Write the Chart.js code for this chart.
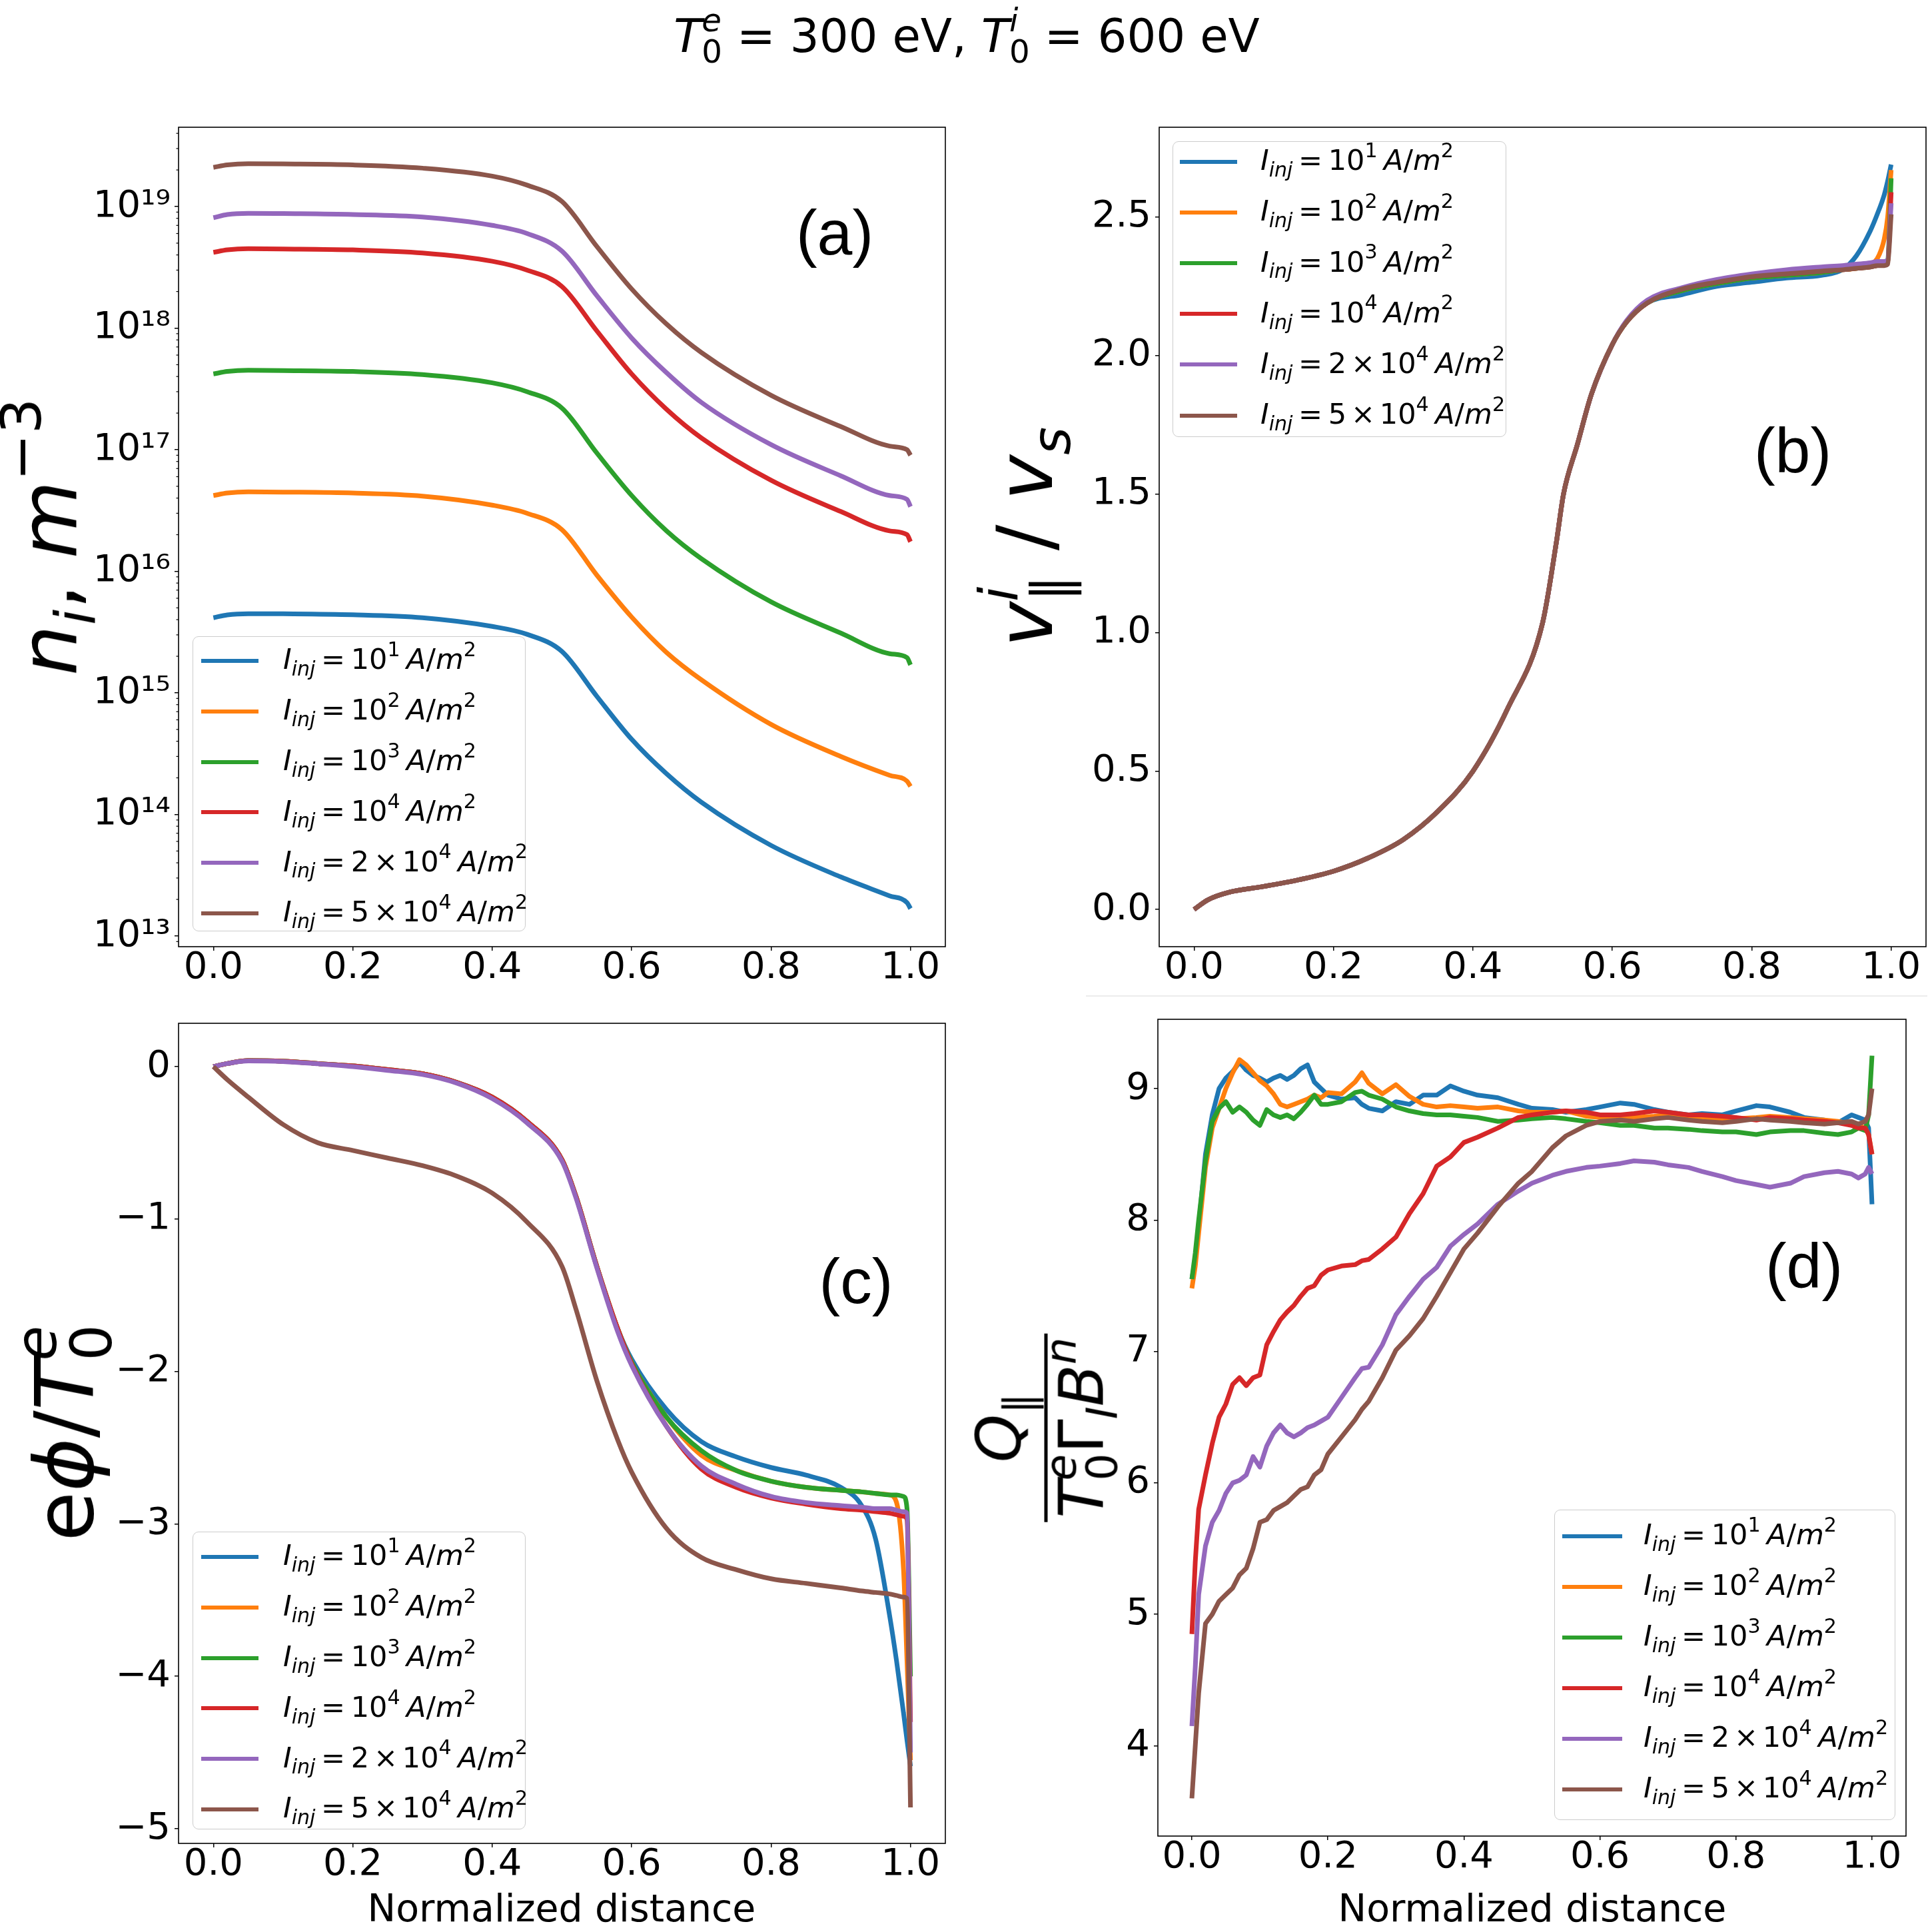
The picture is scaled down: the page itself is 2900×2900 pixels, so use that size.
<!DOCTYPE html>
<html>
<head>
<meta charset="utf-8">
<script src="https://cdn.jsdelivr.net/npm/chart.js"></script>
<style>
html, body { margin:0; padding:0; background:#fff; }
body { width:2900px; height:2900px; position:relative; overflow:hidden; font-family:'DejaVu Sans', sans-serif; }
canvas { position:absolute; }
.t { position:absolute; white-space:nowrap; color:#000; font-family:'DejaVu Sans', sans-serif; z-index:5; }
.sp { font-size:70%; position:relative; top:-0.64em; line-height:0; }
.sb { font-size:70%; position:relative; top:0.33em; line-height:0; }
.eq { margin:0 0.2em; }
.tm { margin:0 0.16em; }
.gap { margin-left:0.22em; }
.legend { position:absolute; box-sizing:border-box; border:1.5px solid #cccccc; border-radius:9px; background:rgba(255,255,255,0.8); z-index:4; }
.swatch { position:absolute; height:6px; z-index:5; }
.sep { position:absolute; left:1630px; top:1494px; width:1263px; height:2px; background:#ececec; }
</style>
</head>
<body>
<div class="sep"></div>
<canvas id="cA" width="1419" height="1385" style="left:8px;top:146px"></canvas>
<canvas id="cB" width="1419" height="1385" style="left:1480px;top:146px"></canvas>
<canvas id="cC" width="1419" height="1386" style="left:8px;top:1491px"></canvas>
<canvas id="cD" width="1391" height="1381" style="left:1478px;top:1485px"></canvas>
<script>
// ---------------- shared data ----------------
const SERIES_COLORS = ['#1f77b4', '#ff7f0e', '#2ca02c', '#d62728', '#9467bd', '#8c564b'];
const SERIES_COEF = ['', '', '', '', '2', '5'];
const SERIES_EXP = ['1', '2', '3', '4', '4', '4'];
const X_TICKS = [0, 0.2, 0.4, 0.6, 0.8, 1.0];
const X_TICK_LABELS = ['0.0', '0.2', '0.4', '0.6', '0.8', '1.0'];

// ---------------- (a) ion density ----------------
const A_X = [0, 0.02, 0.05, 0.1, 0.2, 0.3, 0.4, 0.45, 0.5, 0.55, 0.6, 0.65, 0.7, 0.8, 0.9, 0.97, 0.995, 1.0];
const A_BLUE   = [4.15e15, 4.38e15, 4.48e15, 4.47e15, 4.39e15, 4.15e15, 3.52e15, 3.03e15, 2.19e15, 9.38e14, 4.15e14, 2.16e14, 1.26e14, 5.56e13, 3.06e13, 2.14e13, 1.88e13, 1.68e13];
const A_ORANGE = [4.2e16, 4.4e16, 4.5e16, 4.48e16, 4.4e16, 4.15e16, 3.5e16, 3.0e16, 2.2e16, 9.3e15, 4.2e15, 2.15e15, 1.28e15, 5.5e14, 3.0e14, 2.1e14, 1.88e14, 1.7e14];
const A_GREEN  = [4.2e17, 4.4e17, 4.5e17, 4.48e17, 4.4e17, 4.15e17, 3.55e17, 3.0e17, 2.2e17, 9.4e16, 4.2e16, 2.15e16, 1.27e16, 5.6e15, 3.1e15, 2.1e15, 1.95e15, 1.7e15];
const A_RED    = [4.2e18, 4.4e18, 4.5e18, 4.48e18, 4.4e18, 4.15e18, 3.55e18, 3.0e18, 2.2e18, 9.5e17, 4.2e17, 2.15e17, 1.25e17, 5.6e16, 3.1e16, 2.15e16, 2.0e16, 1.75e16];
const A_PURPLE = [8.1e18, 8.6e18, 8.8e18, 8.75e18, 8.6e18, 8.2e18, 7.0e18, 6.0e18, 4.3e18, 1.85e18, 8.3e17, 4.3e17, 2.45e17, 1.1e17, 6.1e16, 4.2e16, 3.9e16, 3.4e16];
const A_BROWN  = [2.1e19, 2.2e19, 2.25e19, 2.24e19, 2.2e19, 2.07e19, 1.78e19, 1.5e19, 1.1e19, 4.7e18, 2.1e18, 1.08e18, 6.3e17, 2.8e17, 1.55e17, 1.07e17, 1.0e17, 0.9e17];
const A_Y_TICKS = [1e13, 1e14, 1e15, 1e16, 1e17, 1e18, 1e19];
const A_Y_TICK_LABELS = ['10¹³', '10¹⁴', '10¹⁵', '10¹⁶', '10¹⁷', '10¹⁸', '10¹⁹'];

// ---------------- (b) parallel ion velocity ----------------
const B_X = [0, 0.02, 0.05, 0.1, 0.15, 0.2, 0.25, 0.3, 0.35, 0.4, 0.45, 0.5, 0.52, 0.53, 0.55, 0.57, 0.6, 0.62, 0.65, 0.7, 0.75, 0.8, 0.85, 0.9, 0.93, 0.95, 0.97, 0.98, 0.99, 0.995, 1.0];
const B_BLUE   = [0, 0.035, 0.062, 0.083, 0.107, 0.138, 0.186, 0.252, 0.355, 0.499, 0.726, 1.035, 1.33, 1.5, 1.68, 1.86, 2.04, 2.12, 2.19, 2.22, 2.25, 2.265, 2.28, 2.29, 2.31, 2.36, 2.45, 2.51, 2.58, 2.63, 2.69];
const B_ORANGE = [0, 0.035, 0.062, 0.083, 0.107, 0.138, 0.186, 0.252, 0.355, 0.499, 0.726, 1.035, 1.33, 1.5, 1.68, 1.86, 2.04, 2.12, 2.19, 2.235, 2.26, 2.28, 2.29, 2.30, 2.31, 2.315, 2.33, 2.35, 2.42, 2.5, 2.67];
const B_GREEN  = [0, 0.035, 0.062, 0.083, 0.107, 0.138, 0.186, 0.252, 0.355, 0.499, 0.726, 1.035, 1.33, 1.5, 1.68, 1.86, 2.04, 2.12, 2.19, 2.235, 2.26, 2.28, 2.29, 2.30, 2.31, 2.315, 2.32, 2.325, 2.33, 2.34, 2.64];
const B_RED    = [0, 0.035, 0.062, 0.083, 0.107, 0.138, 0.186, 0.252, 0.355, 0.499, 0.726, 1.035, 1.33, 1.5, 1.68, 1.86, 2.04, 2.12, 2.19, 2.24, 2.265, 2.285, 2.295, 2.305, 2.31, 2.315, 2.32, 2.325, 2.33, 2.335, 2.59];
const B_PURPLE = [0, 0.035, 0.062, 0.083, 0.107, 0.138, 0.186, 0.252, 0.355, 0.499, 0.726, 1.035, 1.33, 1.5, 1.68, 1.86, 2.04, 2.125, 2.2, 2.245, 2.275, 2.295, 2.31, 2.32, 2.325, 2.33, 2.335, 2.34, 2.34, 2.345, 2.55];
const B_BROWN  = [0, 0.035, 0.062, 0.083, 0.107, 0.138, 0.186, 0.252, 0.355, 0.499, 0.726, 1.035, 1.33, 1.5, 1.68, 1.86, 2.04, 2.12, 2.19, 2.24, 2.265, 2.285, 2.295, 2.305, 2.31, 2.315, 2.32, 2.325, 2.325, 2.33, 2.51];
const B_Y_TICKS = [0, 0.5, 1.0, 1.5, 2.0, 2.5];
const B_Y_TICK_LABELS = ['0.0', '0.5', '1.0', '1.5', '2.0', '2.5'];

// ---------------- (c) potential ----------------
const C_X = [0, 0.02, 0.05, 0.1, 0.15, 0.2, 0.25, 0.3, 0.35, 0.4, 0.45, 0.5, 0.52, 0.55, 0.58, 0.6, 0.65, 0.7, 0.75, 0.8, 0.85, 0.9, 0.93, 0.95, 0.97, 0.98, 0.99, 0.995, 1.0];
const C_BLUE   = [0, 0.02, 0.039, 0.035, 0.02, 0.004, -0.02, -0.047, -0.105, -0.20, -0.36, -0.61, -0.85, -1.31, -1.72, -1.92, -2.25, -2.46, -2.56, -2.63, -2.68, -2.76, -2.88, -3.10, -3.60, -3.90, -4.24, -4.42, -4.59];
const C_ORANGE = [0, 0.02, 0.039, 0.035, 0.02, 0.004, -0.02, -0.047, -0.105, -0.20, -0.36, -0.61, -0.85, -1.31, -1.72, -1.94, -2.30, -2.55, -2.65, -2.72, -2.76, -2.78, -2.79, -2.80, -2.81, -2.86, -3.30, -3.90, -4.55];
const C_GREEN  = [0, 0.02, 0.039, 0.035, 0.02, 0.004, -0.02, -0.047, -0.105, -0.20, -0.36, -0.61, -0.85, -1.31, -1.72, -1.94, -2.30, -2.52, -2.65, -2.72, -2.76, -2.78, -2.79, -2.80, -2.81, -2.81, -2.82, -2.90, -4.00];
const C_RED    = [0, 0.02, 0.039, 0.035, 0.02, 0.004, -0.02, -0.047, -0.105, -0.20, -0.36, -0.61, -0.85, -1.31, -1.72, -1.95, -2.36, -2.64, -2.76, -2.83, -2.87, -2.90, -2.91, -2.92, -2.93, -2.94, -2.95, -2.97, -4.30];
const C_PURPLE = [0, 0.02, 0.037, 0.033, 0.018, 0.0, -0.025, -0.052, -0.11, -0.21, -0.37, -0.62, -0.86, -1.32, -1.74, -1.96, -2.36, -2.62, -2.74, -2.82, -2.86, -2.88, -2.89, -2.90, -2.90, -2.91, -2.92, -2.93, -4.50];
const C_BROWN  = [0, -0.086, -0.20, -0.38, -0.50, -0.55, -0.60, -0.65, -0.72, -0.83, -1.02, -1.31, -1.59, -2.06, -2.45, -2.66, -3.03, -3.22, -3.30, -3.36, -3.39, -3.42, -3.44, -3.45, -3.46, -3.47, -3.48, -3.49, -4.86];
const C_Y_TICKS = [-5, -4, -3, -2, -1, 0];
const C_Y_TICK_LABELS = ['−5', '−4', '−3', '−2', '−1', '0'];

// ---------------- (d) heat flux ----------------
const D_X = [0, 0.005, 0.01, 0.02, 0.03, 0.04, 0.05, 0.06, 0.07, 0.08, 0.09, 0.10, 0.11, 0.12, 0.13, 0.14, 0.15, 0.16, 0.17, 0.18, 0.19, 0.20, 0.22, 0.24, 0.25, 0.26, 0.28, 0.30, 0.32, 0.34, 0.36, 0.38, 0.40, 0.42, 0.45, 0.48, 0.50, 0.53, 0.55, 0.58, 0.60, 0.63, 0.65, 0.68, 0.70, 0.73, 0.75, 0.78, 0.80, 0.83, 0.85, 0.88, 0.90, 0.93, 0.95, 0.97, 0.98, 0.99, 0.995, 1.0];
const D_BLUE   = [7.55, 7.70, 7.95, 8.50, 8.80, 9.00, 9.08, 9.13, 9.20, 9.14, 9.10, 9.08, 9.05, 9.08, 9.10, 9.07, 9.10, 9.15, 9.18, 9.05, 9.00, 8.95, 8.92, 8.93, 8.88, 8.85, 8.83, 8.90, 8.88, 8.95, 8.95, 9.02, 8.98, 8.95, 8.93, 8.88, 8.85, 8.84, 8.82, 8.84, 8.86, 8.89, 8.88, 8.84, 8.82, 8.80, 8.81, 8.80, 8.83, 8.87, 8.86, 8.82, 8.78, 8.76, 8.74, 8.80, 8.78, 8.76, 8.70, 8.12];
const D_ORANGE = [7.48, 7.65, 7.90, 8.40, 8.70, 8.85, 9.00, 9.12, 9.22, 9.18, 9.12, 9.06, 9.02, 8.96, 8.88, 8.86, 8.88, 8.90, 8.92, 8.95, 8.93, 8.97, 8.96, 9.05, 9.12, 9.04, 8.96, 9.03, 8.94, 8.88, 8.86, 8.87, 8.86, 8.85, 8.86, 8.83, 8.82, 8.82, 8.83, 8.79, 8.78, 8.77, 8.78, 8.79, 8.80, 8.79, 8.78, 8.77, 8.77, 8.78, 8.79, 8.78, 8.77, 8.76, 8.75, 8.73, 8.72, 8.70, 8.65, 8.50];
const D_GREEN  = [7.55, 7.75, 8.00, 8.45, 8.75, 8.85, 8.90, 8.82, 8.86, 8.82, 8.76, 8.72, 8.84, 8.80, 8.78, 8.80, 8.77, 8.82, 8.88, 8.95, 8.88, 8.88, 8.90, 8.97, 8.98, 8.95, 8.92, 8.86, 8.83, 8.81, 8.80, 8.80, 8.79, 8.78, 8.75, 8.76, 8.77, 8.78, 8.77, 8.75, 8.74, 8.72, 8.72, 8.70, 8.70, 8.69, 8.68, 8.67, 8.67, 8.65, 8.67, 8.68, 8.68, 8.66, 8.65, 8.67, 8.70, 8.68, 8.80, 9.25];
const D_RED    = [4.85, 5.40, 5.80, 6.06, 6.30, 6.50, 6.60, 6.75, 6.80, 6.74, 6.80, 6.82, 7.05, 7.15, 7.24, 7.30, 7.35, 7.42, 7.48, 7.50, 7.58, 7.62, 7.65, 7.66, 7.69, 7.70, 7.78, 7.87, 8.05, 8.20, 8.41, 8.48, 8.59, 8.63, 8.70, 8.78, 8.80, 8.82, 8.83, 8.82, 8.80, 8.80, 8.81, 8.83, 8.82, 8.80, 8.80, 8.79, 8.78, 8.76, 8.78, 8.77, 8.76, 8.75, 8.74, 8.72, 8.70, 8.70, 8.65, 8.50];
const D_PURPLE = [4.15, 4.60, 5.15, 5.52, 5.70, 5.79, 5.92, 6.00, 6.02, 6.06, 6.20, 6.12, 6.28, 6.38, 6.44, 6.38, 6.35, 6.38, 6.42, 6.44, 6.47, 6.50, 6.65, 6.80, 6.87, 6.88, 7.05, 7.28, 7.42, 7.55, 7.64, 7.80, 7.89, 7.97, 8.12, 8.22, 8.28, 8.34, 8.37, 8.40, 8.41, 8.43, 8.45, 8.44, 8.42, 8.40, 8.37, 8.33, 8.30, 8.27, 8.25, 8.28, 8.33, 8.36, 8.37, 8.35, 8.32, 8.35, 8.40, 8.35];
const D_BROWN  = [3.60, 4.00, 4.40, 4.93, 5.00, 5.10, 5.15, 5.20, 5.30, 5.35, 5.50, 5.70, 5.72, 5.79, 5.82, 5.85, 5.90, 5.95, 5.97, 6.06, 6.10, 6.22, 6.35, 6.48, 6.56, 6.62, 6.80, 7.01, 7.12, 7.25, 7.42, 7.60, 7.78, 7.90, 8.10, 8.28, 8.37, 8.55, 8.64, 8.72, 8.75, 8.76, 8.75, 8.77, 8.78, 8.76, 8.75, 8.74, 8.75, 8.77, 8.76, 8.75, 8.74, 8.73, 8.74, 8.75, 8.73, 8.75, 8.80, 9.00];
const D_Y_TICKS = [4, 5, 6, 7, 8, 9];
const D_Y_TICK_LABELS = ['4', '5', '6', '7', '8', '9'];

// ---------------- layout / style ----------------
const TICK_FONT = { family: "'DejaVu Sans', sans-serif", size: 56 };
const Y_AXIS_W = 260, X_AXIS_H = 110, TOP_PAD = 45, RIGHT_PAD = 8;
const LINE_W = 7;

function plainLabel(i) { return 'I_inj = ' + (SERIES_COEF[i] ? SERIES_COEF[i] + ' × ' : '') + '10^' + SERIES_EXP[i] + ' A/m^2'; }
function htmlLabel(i) {
  const coef = SERIES_COEF[i] ? SERIES_COEF[i] + '<span class="tm">×</span>' : '';
  return '<i>I</i><span class="sb"><i>inj</i></span><span class="eq">=</span>' + coef + '10<span class="sp">' + SERIES_EXP[i] +
         '</span><i class="gap">A</i>/<i>m</i><span class="sp">2</span>';
}

const framePlugin = {
  id: 'frame',
  afterDatasetsDraw(chart) {
    const { ctx, chartArea: a } = chart;
    ctx.save(); ctx.strokeStyle = '#000'; ctx.lineWidth = 1.6;
    ctx.strokeRect(a.left, a.top, a.right - a.left, a.bottom - a.top);
    ctx.restore();
  }
};
const minorLogPlugin = {
  id: 'minorLog',
  afterDraw(chart) {
    const s = chart.scales.y;
    if (s.type !== 'logarithmic') return;
    const ctx = chart.ctx; ctx.save(); ctx.strokeStyle = '#000'; ctx.lineWidth = 1.2;
    for (let e = 12; e <= 19; e++) for (let m = 2; m <= 9; m++) {
      const v = m * Math.pow(10, e);
      if (v < s.min || v > s.max) continue;
      const y = s.getPixelForValue(v);
      ctx.beginPath(); ctx.moveTo(s.right - 3.5, y); ctx.lineTo(s.right, y); ctx.stroke();
    }
    ctx.restore();
  }
};

function tickGrid() { return { display: true, drawOnChartArea: false, drawTicks: true, tickLength: 6, color: '#000', lineWidth: 1.5 }; }
function xScale() {
  return {
    type: 'linear', min: -0.05, max: 1.05, bounds: 'data',
    afterBuildTicks: s => { s.ticks = X_TICKS.map(v => ({ value: v })); },
    afterFit: s => { s.height = X_AXIS_H; },
    ticks: { callback: (v, i) => X_TICK_LABELS[i], font: TICK_FONT, color: '#000', padding: -7, maxRotation: 0, minRotation: 0, autoSkip: false },
    grid: tickGrid(), border: { display: false }
  };
}
function yScale(type, min, max, ticks, labels) {
  return {
    type, min, max, bounds: 'data',
    afterBuildTicks: s => { s.ticks = ticks.map(v => ({ value: v })); },
    afterFit: s => { s.width = Y_AXIS_W; },
    ticks: { callback: (v, i) => labels[i], font: TICK_FONT, color: '#000', padding: 6, autoSkip: false },
    grid: tickGrid(), border: { display: false }
  };
}
function makeDatasets(xs, series, extra) {
  return series.map((ys, i) => Object.assign({
    label: plainLabel(i),
    data: xs.map((x, j) => ({ x: x, y: ys[j] })),
    borderColor: SERIES_COLORS[i], backgroundColor: SERIES_COLORS[i],
    borderWidth: LINE_W, pointRadius: 0, fill: false, order: 5 - i,
    borderJoinStyle: 'round'
  }, extra));
}
function makeChart(id, xs, series, y, extra) {
  return new Chart(document.getElementById(id), {
    type: 'line',
    data: { datasets: makeDatasets(xs, series, extra) },
    options: {
      responsive: false, animation: false,
      layout: { padding: { top: TOP_PAD, right: RIGHT_PAD, left: 0, bottom: 0 } },
      plugins: { legend: { display: false }, tooltip: { enabled: false } },
      scales: { x: xScale(), y: y }
    },
    plugins: [framePlugin, minorLogPlugin]
  });
}

const SMOOTH = { cubicInterpolationMode: 'monotone' };
makeChart('cA', A_X, [A_BLUE, A_ORANGE, A_GREEN, A_RED, A_PURPLE, A_BROWN],
  yScale('logarithmic', 8.17e12, 4.49e19, A_Y_TICKS, A_Y_TICK_LABELS), SMOOTH);
makeChart('cB', B_X, [B_BLUE, B_ORANGE, B_GREEN, B_RED, B_PURPLE, B_BROWN],
  yScale('linear', -0.1345, 2.8245, B_Y_TICKS, B_Y_TICK_LABELS), SMOOTH);
makeChart('cC', C_X, [C_BLUE, C_ORANGE, C_GREEN, C_RED, C_PURPLE, C_BROWN],
  yScale('linear', -5.096, 0.284, C_Y_TICKS, C_Y_TICK_LABELS), SMOOTH);
makeChart('cD', D_X, [D_BLUE, D_ORANGE, D_GREEN, D_RED, D_PURPLE, D_BROWN],
  yScale('linear', 3.313, 9.527, D_Y_TICKS, D_Y_TICK_LABELS), { tension: 0 });

// ---------------- text overlays ----------------
function txt(html, x, baseline, size, opts) {
  opts = opts || {};
  const d = document.createElement('div');
  d.className = 't';
  d.innerHTML = html;
  d.style.fontSize = size + 'px';
  d.style.lineHeight = (2 * size) + 'px';
  d.style.top = (baseline - 1.346 * size) + 'px';
  d.style.left = x + 'px';
  if (opts.family) d.style.fontFamily = opts.family;
  if (opts.center) d.style.transform = 'translateX(-50%)';
  document.body.appendChild(d);
  return d;
}
function rot(html, baselineX, cy, size) {
  const d = document.createElement('div');
  d.className = 't';
  d.innerHTML = html;
  d.style.fontSize = size + 'px';
  d.style.lineHeight = (2 * size) + 'px';
  d.style.left = (baselineX - 0.346 * size) + 'px';
  d.style.top = cy + 'px';
  d.style.transform = 'translate(-50%,-50%) rotate(-90deg)';
  document.body.appendChild(d);
  return d;
}
function legend(box, row0, step, sx0, sx1, textX, fs) {
  const b = document.createElement('div');
  b.className = 'legend';
  b.style.left = box[0] + 'px'; b.style.top = box[1] + 'px';
  b.style.width = box[2] + 'px'; b.style.height = box[3] + 'px';
  document.body.appendChild(b);
  for (let i = 0; i < SERIES_COLORS.length; i++) {
    const cy = row0 + i * step;
    const s = document.createElement('div');
    s.className = 'swatch';
    s.style.left = sx0 + 'px'; s.style.width = (sx1 - sx0) + 'px';
    s.style.top = (cy - 3) + 'px'; s.style.background = SERIES_COLORS[i];
    document.body.appendChild(s);
    txt(htmlLabel(i), textX, cy + 0.285 * fs, fs);
  }
}

// title
txt('<i>T</i><span class="sp"><i>e</i></span><span class="sb" style="margin-left:-0.615em">0</span> = 300 eV, ' +
    '<i>T</i><span class="sp"><i>i</i></span><span class="sb" style="margin-left:-0.278em">0</span> = 600 eV',
    1451, 78, 69, { center: true });

// y labels
rot('<i>n</i><span class="sb"><i>i</i></span>, <i>m</i><span class="sp">−3</span>', 116, 806, 120);
rot('<i>v</i><span class="sp"><i>i</i></span><span class="sb" style="margin-left:-0.278em">∥</span> / <i>v</i><span class="sb"><i>s</i></span>', 1579, 806, 115);
rot('e<i>ϕ</i>/<i>T</i><span class="sp"><i>e</i></span><span class="sb" style="margin-left:-0.615em">0</span>', 139, 2151, 122);

// fraction label for (d)
(function () {
  const d = document.createElement('div');
  d.className = 't';
  d.style.fontSize = '92px';
  d.style.left = '1570px'; d.style.top = '2143px';
  d.style.transform = 'translate(-50%,-50%) rotate(-90deg)';
  d.innerHTML =
    '<div style="display:flex;flex-direction:column;align-items:center">' +
    '<div style="height:134px;line-height:134px;padding:0 6px"><i>Q</i><span class="sb">∥</span></div>' +
    '<div style="height:5px;background:#000;align-self:stretch"></div>' +
    '<div style="height:134px;line-height:134px;padding:0 6px;position:relative;top:-15px"><i>T</i><span class="sp"><i>e</i></span><span class="sb" style="margin-left:-0.615em">0</span>Γ<span class="sb"><i>I</i></span><i>B</i><span class="sp"><i>n</i></span></div>' +
    '</div>';
  document.body.appendChild(d);
})();

// x labels
txt('Normalized distance', 843, 2884, 57, { center: true });
txt('Normalized distance', 2300, 2884, 57, { center: true });

// panel tags
const TAG_FONT = "'Liberation Sans', Arial, sans-serif";
txt('(a)', 1253, 357 + 0.26 * 95, 95, { center: true, family: TAG_FONT });
txt('(b)', 2691, 684 + 0.26 * 95, 95, { center: true, family: TAG_FONT });
txt('(c)', 1285, 1931 + 0.26 * 95, 95, { center: true, family: TAG_FONT });
txt('(d)', 2708, 1908 + 0.26 * 95, 95, { center: true, family: TAG_FONT });

// legends
legend([289, 955, 500, 443], 992, 75.8, 302, 388, 425, 43);
legend([1760, 212, 501, 444], 243, 76.1, 1771, 1857, 1892, 43);
legend([289, 2299, 500, 447], 2337, 75.8, 302, 388, 425, 43);
legend([2333, 2266, 512, 466], 2306, 76, 2345, 2435, 2467, 43);
</script>
</body>
</html>
